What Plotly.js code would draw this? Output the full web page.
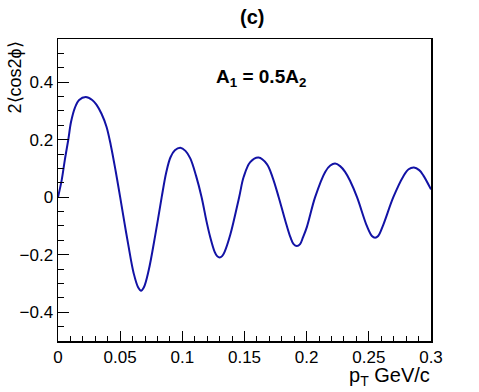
<!DOCTYPE html>
<html>
<head>
<meta charset="utf-8">
<script src="https://cdn.plot.ly/plotly-3.0.1.min.js"></script>
<style>
  html, body { margin: 0; padding: 0; background: white; }
  #myDiv { width: 479px; height: 392px; }
</style>
</head>
<body>
<div id="myDiv"></div>
<script>
// values
var pt = [0, 0.003, 0.0055, 0.0082, 0.0105, 0.0135, 0.017, 0.0223, 0.0275, 0.0309, 0.035, 0.039,
          0.0425, 0.0464, 0.050, 0.0535, 0.0565, 0.0609, 0.0645, 0.0668, 0.069, 0.0729, 0.0783,
          0.0834, 0.087, 0.0904, 0.094, 0.0984, 0.1025, 0.1064, 0.111, 0.1155, 0.1195, 0.1225,
          0.126, 0.128, 0.130, 0.132, 0.134, 0.1386, 0.1457, 0.1493, 0.1546, 0.1613, 0.168, 0.1725,
          0.1775, 0.1827, 0.187, 0.1895, 0.1921, 0.1947, 0.197, 0.2002, 0.2068, 0.2149, 0.219,
          0.2229, 0.2269, 0.2309, 0.2349, 0.2405, 0.2484, 0.2525, 0.255, 0.2575, 0.2617, 0.2697,
          0.2778, 0.282, 0.2863, 0.2905, 0.2938, 0.3];
var cos2phi = [0, 0.06, 0.13, 0.198, 0.262, 0.31, 0.338, 0.348, 0.338, 0.322, 0.29, 0.245,
               0.18, 0.09, 0, -0.09, -0.165, -0.265, -0.314, -0.325, -0.314, -0.255, -0.13,
               0, 0.085, 0.138, 0.163, 0.172, 0.161, 0.135, 0.075, 0, -0.085, -0.14,
               -0.19, -0.205, -0.21, -0.205, -0.19, -0.13, 0, 0.07, 0.122, 0.138, 0.115, 0.07,
               0, -0.08, -0.14, -0.163, -0.17, -0.163, -0.14, -0.103, 0, 0.088, 0.11,
               0.117, 0.108, 0.088, 0.057, 0, -0.1, -0.135, -0.141, -0.135, -0.095, 0,
               0.073, 0.097, 0.103, 0.094, 0.076, 0.027];

var xTicks = [0, 0.05, 0.1, 0.15, 0.2, 0.25, 0.3];
var xLabels = ['0', '0.05', '0.1', '0.15', '0.2', '0.25', '0.3'];
var yTicks = [-0.4, -0.2, 0, 0.2, 0.4];
var yLabels = ['\u22120.4', '\u22120.2', '0', '0.2', '0.4'];

var fnt = 'Liberation Sans, Arial, sans-serif';

var trace = {
    x: pt,
    y: cos2phi,
    mode: 'lines',
    line: { color: 'rgb(18, 18, 165)', width: 2, shape: 'spline', smoothing: 1 },
    hoverinfo: 'skip'
};

var layout = {
    width: 479,
    height: 392,
    margin: { l: 57.5, r: 48, t: 39, b: 51 },
    paper_bgcolor: 'white',
    plot_bgcolor: 'white',
    showlegend: false,
    font: { family: fnt, size: 17, color: 'black' },
    xaxis: {
        range: [0, 0.3],
        showgrid: false,
        zeroline: false,
        showline: true,
        mirror: true,
        linecolor: 'black',
        linewidth: 1.5,
        ticks: 'inside',
        ticklen: 10,
        tickwidth: 1,
        tickcolor: 'black',
        tickvals: xTicks,
        ticktext: xLabels,
        tickfont: { family: fnt, size: 17, color: 'black' },
        minor: { dtick: 0.01, ticks: 'inside', ticklen: 5, tickcolor: 'black', showgrid: false }
    },
    yaxis: {
        range: [-0.5, 0.55],
        showgrid: false,
        zeroline: false,
        showline: true,
        mirror: true,
        linecolor: 'black',
        linewidth: 1.5,
        ticks: 'inside',
        ticklen: 11,
        tickwidth: 1,
        tickcolor: 'black',
        tickvals: yTicks,
        ticktext: yLabels,
        tickfont: { family: fnt, size: 17, color: 'black' },
        minor: { dtick: 0.05, ticks: 'inside', ticklen: 6, tickcolor: 'black', showgrid: false }
    },
    annotations: [
        {
            text: '<b>(c)</b>',
            xref: 'paper', yref: 'paper',
            x: 0.521, y: 1.073,
            xanchor: 'center', yanchor: 'middle',
            showarrow: false,
            font: { family: fnt, size: 20, color: 'black' }
        },
        {
            text: '<b>A<sub>1</sub> = 0.5A<sub>2</sub></b>',
            xref: 'paper', yref: 'paper',
            x: 0.545, y: 0.872,
            xanchor: 'center', yanchor: 'middle',
            showarrow: false,
            font: { family: fnt, size: 19, color: 'black' }
        },
        {
            text: 'p<sub>T</sub> GeV/c',
            xref: 'paper', yref: 'paper',
            x: 1.004, y: -0.07,
            xanchor: 'right', yanchor: 'top',
            showarrow: false,
            font: { family: fnt, size: 20, color: 'black' }
        },
        {
            text: '2\u27E8cos2\u03D5\u27E9',
            xref: 'paper', yref: 'paper',
            x: -0.114, y: 1.0,
            xanchor: 'center', yanchor: 'top',
            textangle: -90,
            showarrow: false,
            font: { family: fnt, size: 18, color: 'black' }
        }
    ]
};

Plotly.newPlot('myDiv', [trace], layout, { staticPlot: true, displayModeBar: false });
</script>
</body>
</html>
